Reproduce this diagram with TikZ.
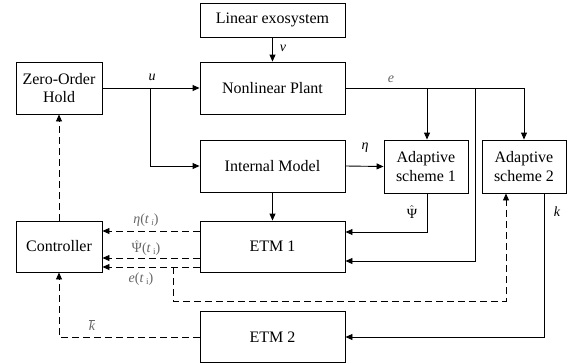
\documentclass[tikz,border=0pt]{standalone}
\usepackage{fontspec}
\setmainfont{LiberationSerif}[Extension=.ttf,UprightFont=*-Regular,ItalicFont=*-Italic,BoldFont=*-Bold,BoldItalicFont=*-BoldItalic]
\usetikzlibrary{arrows.meta}
\newcommand{\phat}{$\hat{\mbox{Ψ}}$}
\begin{document}
\begin{tikzpicture}[x=1pt,y=-1pt,
  blk/.style={draw,line width=0.9pt,rectangle,align=center,inner sep=1pt,font=\fontsize{16}{18.5}\selectfont},
  conn/.style={line width=0.9pt,-{Triangle[length=7pt,width=6pt]}},
  plainline/.style={line width=0.9pt},
  dconn/.style={line width=0.9pt,dash pattern=on 7pt off 4pt,-{Triangle[length=7pt,width=6pt]}},
  lbl/.style={font=\fontsize{14}{14}\selectfont\itshape,inner sep=0pt},
  glbl/.style={font=\fontsize{14}{14}\selectfont,inner sep=0pt,text=black!60}]
\useasboundingbox (0,0) rectangle (574,364);
% blocks
\node[blk,minimum width=145pt,minimum height=34pt] (exo) at (272.5,20) {Linear exosystem};
\node[blk,minimum width=145pt,minimum height=52pt] (plant) at (272.5,88) {Nonlinear Plant};
\node[blk,minimum width=86pt,minimum height=52pt] (zoh) at (59,88) {Zero-Order\\Hold};
\node[blk,minimum width=145pt,minimum height=52pt] (im) at (272.5,166) {Internal Model};
\node[blk,minimum width=84pt,minimum height=53pt] (as1) at (426,166.5) {Adaptive\\scheme 1};
\node[blk,minimum width=84pt,minimum height=53pt] (as2) at (524,166.5) {Adaptive\\scheme 2};
\node[blk,minimum width=86pt,minimum height=51pt] (ctrl) at (59,246.5) {Controller};
\node[blk,minimum width=145pt,minimum height=51pt] (etm1) at (272.5,246.5) {ETM 1};
\node[blk,minimum width=145pt,minimum height=51pt] (etm2) at (272.5,337) {ETM 2};
% junctions
\coordinate (ju) at (150,88);
\coordinate (je1) at (427,88);
\coordinate (je2) at (475,88);
\coordinate (je3) at (524,88);
\coordinate (jd) at (173,267);
% solid connectors
\draw[conn] (exo.south) -- (plant.north);
\draw[conn] (zoh.east) -- (plant.west);
\draw[conn] (ju) |- (im.west);
\draw[plainline] (plant.east) -- (je3);
\draw[conn] (je1) -- (je1 |- as1.north);
\draw[conn] (je3) -- (as2.north);
\draw[conn] (je2) |- (etm1.east |- 0,261);
\draw[conn] (im.east) -- (as1.west);
\draw[conn] (as1.south -| je1) |- (etm1.east |- 0,232);
\draw[conn] (as2.south -| 544,0) |- (etm2.east);
\draw[conn] (im.south) -- (etm1.north);
% dashed connectors
\draw[dconn] (etm1.west |- 0,231) -- (ctrl.east |- 0,231);
\draw[dconn] (etm1.west |- 0,258) -- (ctrl.east |- 0,258);
\draw[dconn] (etm1.west |- 0,267) -- (ctrl.east |- 0,267);
\draw[dconn] (jd) -- (173,301) -| (as2.south -| 506,0);
\draw[dconn] (ctrl.north) -- (zoh.south);
\draw[dconn] (etm2.west) -| (ctrl.south);
% labels
\node[lbl] (lnu) at (283,48) {ν};
\node[lbl] (lu) at (152,77) {u};
\node[lbl,text=black!60] (le) at (391,79) {e};
\node[lbl] (leta) at (365,148) {η};
\node[font=\fontsize{14}{14}\selectfont,inner sep=0pt] (lpsi) at (412,212) {\phat};
\node[lbl] (lk) at (557,212) {k};
\node[glbl] (l1) at (146,220) {\textit{η}(\textit{t}\,\raisebox{-0.3ex}{\fontsize{9}{9}\selectfont\textit{i}})};
\node[glbl] (l2) at (146,248) {\phat(\textit{t}\,\raisebox{-0.3ex}{\fontsize{9}{9}\selectfont i})};
\node[glbl] (l3) at (141,279) {\textit{e}(\textit{t}\,\raisebox{-0.3ex}{\fontsize{9}{9}\selectfont i})};
\node[glbl] (lkb) at (92,325) {$\overline{\mbox{\textit{k}}}$};
\end{tikzpicture}
\end{document}
